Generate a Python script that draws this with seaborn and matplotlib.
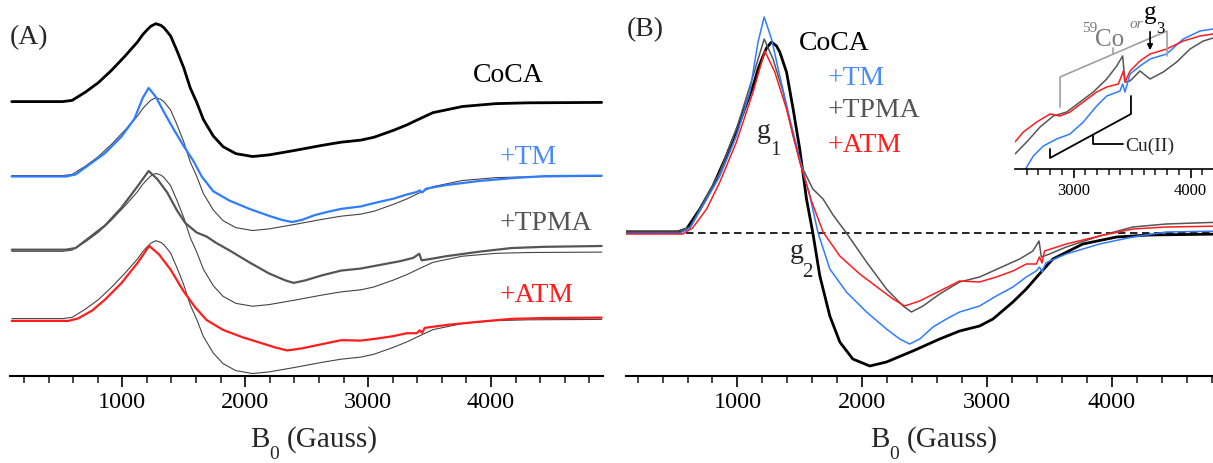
import numpy as np
import matplotlib
matplotlib.use('Agg')
import matplotlib.pyplot as plt
import seaborn as sns

# spectra (field in Gauss, signal in arbitrary units)
coca_b = [100, 515, 592, 699, 804, 911, 1019, 1125, 1165, 1205, 1233, 1273, 1313, 1339, 1393, 1446, 1499,
          1553, 1604, 1660, 1740, 1820, 1924, 2060, 2194, 2405, 2620, 2780, 2940, 3047, 3207, 3314, 3405,
          3527, 3767, 4038, 4302, 4900]
coca_i = [1, 1, 4, 24, 47, 77, 111, 147, 164, 177, 185, 191, 187, 181, 161, 124, 84,
          34, 0, -43, -83, -109, -126, -133, -129, -118, -106, -98, -93, -86, -69, -56, -43,
          -26, -11, -4, -2, -1]

tm_b = [100, 540, 620, 699, 859, 992, 1099, 1165, 1214, 1273, 1339, 1420, 1500, 1580, 1646, 1740, 1873,
        2034, 2194, 2300, 2380, 2460, 2567, 2674, 2780, 2940, 3074, 3207, 3314, 3394, 3420, 3440, 3470,
        3501, 3634, 3901, 4167, 4434, 4900]
tm_i = [0, 0, 5, 22, 57, 97, 141, 191, 216, 194, 157, 114, 74, 37, 0, -36, -59,
        -79, -96, -106, -111, -106, -94, -86, -79, -73, -63, -54, -44, -38, -34, -39, -30,
        -28, -21, -11, -4, 1, 2]

tpma_b = [100, 540, 620, 699, 859, 992, 1125, 1214, 1285, 1366, 1446, 1513, 1604, 1686, 1766, 1873,
          2034, 2194, 2327, 2394, 2487, 2620, 2780, 2940, 3100, 3261, 3367, 3416, 3435, 3501, 3634,
          3901, 4167, 4434, 4900]
tpma_i = [2, 2, 6, 24, 61, 104, 157, 194, 174, 141, 97, 67, 44, 34, 18, 0,
          -29, -56, -73, -79, -73, -61, -49, -44, -35, -26, -18, -8, -24, -21, -14,
          -3, 6, 9, 11]

atm_b = [100, 560, 640, 753, 859, 992, 1125, 1219, 1299, 1393, 1499, 1593, 1686, 1820, 1980, 2140,
         2247, 2340, 2460, 2620, 2780, 2940, 3074, 3207, 3314, 3394, 3420, 3440, 3460, 3634, 3901,
         4167, 4434, 4900]
atm_i = [-1, -1, 5, 24, 51, 91, 141, 182, 161, 124, 71, 32, 1, -23, -41, -56,
         -66, -73, -68, -58, -48, -49, -44, -38, -31, -31, -24, -30, -18, -11, -3,
         4, 6, 7]

# inset (magnified high-field region)
ins_red_b = [2500, 2571, 2686, 2799, 2885, 2970, 3084, 3198, 3284, 3383, 3426, 3440, 3483, 3568, 3654,
             3796, 3938, 4081, 4192]
ins_red_i = [27, 37, 47, 55, 53, 57, 67, 77, 82, 85, 98, 87, 98, 108, 115, 120, 128, 133, 135]
ins_gray_b = [2500, 2600, 2714, 2827, 2942, 3056, 3169, 3284, 3369, 3420, 3440, 3483, 3568, 3654, 3767,
              3882, 3996, 4109, 4192]
ins_gray_i = [15, 27, 42, 53, 57, 67, 77, 90, 103, 113, 87, 88, 98, 90, 97, 107, 120, 128, 131]
ins_blue_b = [2590, 2657, 2742, 2856, 2970, 3084, 3198, 3284, 3397, 3420, 3440, 3483, 3568, 3654, 3796,
              3938, 4081, 4192]
ins_blue_i = [0, 13, 23, 30, 35, 47, 63, 73, 78, 85, 77, 95, 103, 110, 115, 130, 138, 140]

# panel A: scale and vertical offsets of the stacked traces
scale_a = 0.41
offsets = {'CoCA': 0, '+TM': -74.5, '+TPMA': -148.5, '+ATM': -218.5}
sim_offsets = [-74, -149.7, -217]

BLUE = '#2f7cff'
GRAY = '#555555'
RED = '#ff1c1c'

sns.set_style('white')
plt.rcParams['font.family'] = ['Liberation Serif', 'DejaVu Serif']

W, H = 1213, 464
fig = plt.figure(figsize=(W / 100, H / 100), dpi=100)


def px_box(l, t, r, b):
    return [l / W, 1 - b / H, (r - l) / W, (b - t) / H]


def style(ax, xlim, ylim, major, minor, size, lmaj, lmin):
    ax.set_xlim(xlim)
    ax.set_ylim(ylim)
    for s in ['left', 'top', 'right']:
        ax.spines[s].set_visible(False)
    ax.spines['bottom'].set_linewidth(1.5)
    ax.spines['bottom'].set_color('k')
    ax.set_xticks(major)
    ax.set_xticks(minor, minor=True)
    ax.set_yticks([])
    ax.tick_params(axis='x', which='major', direction='out', length=lmaj, width=1.2,
                   labelsize=size, pad=3, colors='k', bottom=True)
    ax.tick_params(axis='x', which='minor', direction='out', length=lmin, width=1.2, bottom=True)
    ax.set_xlabel('')
    ax.set_ylabel('')
    ax.patch.set_alpha(0)


axA = fig.add_axes(px_box(10, 0, 603, 377))
axB = fig.add_axes(px_box(626, 0, 1213, 377))
axI = fig.add_axes(px_box(1015, 0, 1213, 170))

majors = [1000, 2000, 3000, 4000]
minors = [v for v in range(200, 4801, 200) if v % 1000]

# ---------- panel A ----------
for off in sim_offsets:
    sns.lineplot(x=coca_b, y=np.array(coca_i) * scale_a + off, ax=axA, color='#444444', linewidth=0.8)
series = [('CoCA', coca_b, coca_i, 'k', 2.0), ('+TM', tm_b, tm_i, BLUE, 1.6),
          ('+TPMA', tpma_b, tpma_i, GRAY, 1.6), ('+ATM', atm_b, atm_i, RED, 1.6)]
for name, b, i, c, lw in series:
    sns.lineplot(x=b, y=np.array(i) * scale_a + offsets[name], ax=axA, color=c, linewidth=lw)
style(axA, (86, 4911), (-274, 103), majors, minors, 17.5, 8, 5)

axA.text(86, 65, '(A)', fontsize=20, ha='left', va='center')
axA.text(3853, 28, 'CoCA', fontsize=20, ha='left', va='center', color='k')
axA.text(4073, -54, '+TM', fontsize=20, ha='left', va='center', color='#4a8cff')
axA.text(4073, -121, '+TPMA', fontsize=20, ha='left', va='center', color=GRAY)
axA.text(4073, -193, '+ATM', fontsize=20, ha='left', va='center', color=RED)

# ---------- panel B ----------
axB.axhline(0, color='k', linewidth=1.2, dashes=(4.5, 2.7))
sns.lineplot(x=coca_b, y=coca_i, ax=axB, color='k', linewidth=2.0)
sns.lineplot(x=tpma_b, y=tpma_i, ax=axB, color=GRAY, linewidth=1.1)
sns.lineplot(x=tm_b, y=tm_i, ax=axB, color=BLUE, linewidth=1.1)
sns.lineplot(x=atm_b, y=atm_i, ax=axB, color=RED, linewidth=1.1)
style(axB, (107, 4810), (-143, 234), majors, minors, 17.5, 8, 5)

axB.text(114, 204, '(B)', fontsize=20, ha='left', va='center')
axB.text(1491, 191, 'CoCA', fontsize=20, ha='left', va='center', color='k')
axB.text(1723, 156, '+TM', fontsize=20, ha='left', va='center', color='#4a8cff')
axB.text(1723, 124, '+TPMA', fontsize=20, ha='left', va='center', color=GRAY)
axB.text(1723, 88, '+ATM', fontsize=20, ha='left', va='center', color=RED)
axB.text(1155, 96, 'g', fontsize=20, ha='left', va='baseline')
axB.text(1259, 79, '1', fontsize=15, ha='left', va='baseline')
axB.text(1420, -24, 'g', fontsize=20, ha='left', va='baseline')
axB.text(1516, -43, '2', fontsize=15, ha='left', va='baseline')

# x labels with dropped subscript
for x0 in (250, 870):
    fig.text(x0 / W, 1 - 447 / H, 'B', fontsize=21, ha='left', va='baseline')
    fig.text((x0 + 19) / W, 1 - 459 / H, '0', fontsize=14, ha='left', va='baseline')
    fig.text((x0 + 37) / W, 1 - 447 / H, '(Gauss)', fontsize=21, ha='left', va='baseline')

# ---------- inset ----------
sns.lineplot(x=ins_gray_b, y=ins_gray_i, ax=axI, color=GRAY, linewidth=1.1)
sns.lineplot(x=ins_blue_b, y=ins_blue_i, ax=axI, color=BLUE, linewidth=1.1)
sns.lineplot(x=ins_red_b, y=ins_red_i, ax=axI, color=RED, linewidth=1.1)
style(axI, (2500, 4192), (0, 170), [3000, 4000],
      [v for v in range(2600, 4200, 100) if v % 1000], 12, 6.5, 4.3)
axI.spines['bottom'].set_linewidth(1.2)

bc = '#a0a0a0'
axI.plot([2885, 2885, 3799, 3799], [62, 92, 138, 113], color=bc, linewidth=1.2)
axI.plot([3335, 3335], [114.6, 121], color=bc, linewidth=1.2)
axI.text(3073, 138, '59', fontsize=11, color='#7a7a7a', ha='left', va='baseline')
axI.text(3185, 124, 'Co', fontsize=18, color='#7a7a7a', ha='left', va='baseline')
axI.text(3483, 142, 'or', fontsize=11, color='#7a7a7a', ha='left', va='baseline', style='italic')
axI.text(3603, 151, 'g', fontsize=18, color='k', ha='left', va='baseline')
axI.text(3705, 137, '3', fontsize=12, color='k', ha='left', va='baseline')
axI.annotate('', xy=(3654, 116), xytext=(3654, 140),
             arrowprops=dict(arrowstyle='-|>', color='k', lw=1.2, mutation_scale=8))

axI.plot([2799, 2799, 3491, 3491], [20, 11, 55, 73], color='k', linewidth=1.3)
axI.plot([3167, 3167, 3423], [34.4, 25, 25], color='k', linewidth=1.3)
axI.text(3440, 24, 'Cu(II)', fontsize=14, ha='left', va='center')

fig.savefig('out.png', dpi=100)
